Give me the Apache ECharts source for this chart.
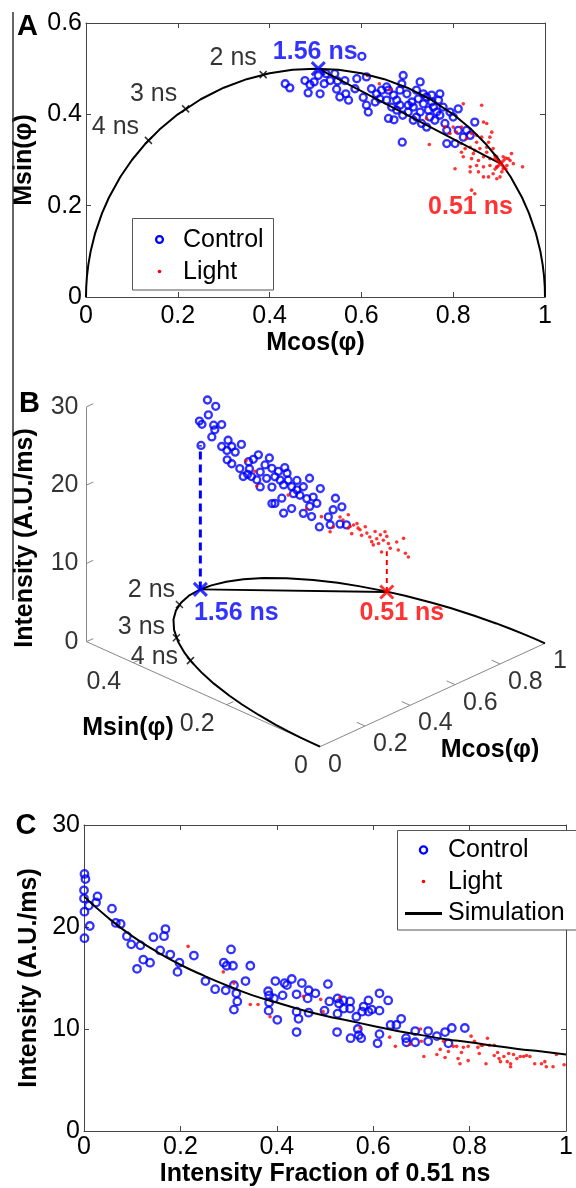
<!DOCTYPE html>
<html><head><meta charset="utf-8">
<script src="https://cdn.jsdelivr.net/npm/echarts@6/dist/echarts.min.js"></script>
<style>html,body{margin:0;padding:0;background:#fff}#c{width:576px;height:1188px}</style>
</head><body><div id="c"></div>
<script>
// ================= DATA =================
// Panel A: universal semicircle (Mcos, Msin)
const circleA = [[0,0],[0.0005,0.0224],[0.002,0.0447],[0.005,0.0705],[0.01,0.0995],[0.02,0.14],[0.035,0.1838],[0.05,0.2179],[0.075,0.2634],[0.1,0.3],[0.13,0.3363],[0.16,0.3666],[0.2,0.4],[0.25,0.433],[0.3,0.4583],[0.35,0.477],[0.4,0.4899],[0.45,0.4975],[0.5,0.5],[0.55,0.4975],[0.6,0.4899],[0.65,0.477],[0.7,0.4583],[0.75,0.433],[0.8,0.4],[0.84,0.3666],[0.87,0.3363],[0.9,0.3],[0.925,0.2634],[0.95,0.2179],[0.965,0.1838],[0.98,0.14],[0.99,0.0995],[0.995,0.0705],[0.998,0.0447],[0.9995,0.0224],[1,0]];
// lifetime marks on the circle
const tauNames = ['2 ns','3 ns','4 ns'];
const tauPts = [[0.386,0.487],[0.217,0.412],[0.136,0.343]];
// reference lifetimes (Control / Light)
const refNames = ['1.56 ns','0.51 ns'];
const refPts = [[0.506,0.500],[0.903,0.292]];
const refTopI = [18.4, 5.2];   // panel B: heights of the dashed drop lines
// Panel A scatter
const controlA = [[0.601,0.527],[0.434,0.467],[0.444,0.458],[0.477,0.474],[0.488,0.465],[0.484,0.447],[0.497,0.471],[0.510,0.445],[0.519,0.467],[0.523,0.489],[0.542,0.489],[0.548,0.473],[0.546,0.455],[0.564,0.474],[0.566,0.445],[0.572,0.431],[0.586,0.456],[0.590,0.478],[0.604,0.437],[0.611,0.420],[0.615,0.405],[0.622,0.456],[0.611,0.482],[0.630,0.427],[0.633,0.445],[0.644,0.453],[0.655,0.460],[0.659,0.391],[0.671,0.388],[0.670,0.442],[0.677,0.431],[0.684,0.453],[0.691,0.485],[0.688,0.467],[0.690,0.398],[0.689,0.339],[0.699,0.445],[0.702,0.420],[0.710,0.427],[0.713,0.387],[0.720,0.453],[0.724,0.434],[0.728,0.405],[0.731,0.380],[0.735,0.423],[0.742,0.438],[0.746,0.409],[0.749,0.394],[0.753,0.427],[0.757,0.416],[0.760,0.387],[0.764,0.405],[0.768,0.431],[0.771,0.398],[0.778,0.416],[0.782,0.380],[0.786,0.365],[0.793,0.405],[0.800,0.394],[0.786,0.336],[0.804,0.336],[0.811,0.412],[0.811,0.365],[0.829,0.365],[0.847,0.383],[0.837,0.354],[0.822,0.350],[0.742,0.372],[0.735,0.445],[0.702,0.405],[0.677,0.409],[0.666,0.416],[0.655,0.431],[0.640,0.434],[0.532,0.474],[0.506,0.485],[0.553,0.438],[0.728,0.471],[0.753,0.442],[0.771,0.445],[0.713,0.416],[0.720,0.394],[0.684,0.420],[0.659,0.453]];
const lightA = [[0.613,0.485],[0.639,0.467],[0.662,0.454],[0.742,0.391],[0.782,0.372],[0.822,0.423],[0.818,0.372],[0.840,0.358],[0.866,0.383],[0.873,0.380],[0.851,0.354],[0.862,0.350],[0.880,0.350],[0.877,0.339],[0.748,0.334],[0.818,0.336],[0.826,0.325],[0.837,0.328],[0.847,0.321],[0.858,0.325],[0.873,0.328],[0.887,0.325],[0.822,0.307],[0.840,0.303],[0.855,0.299],[0.866,0.307],[0.880,0.303],[0.891,0.310],[0.898,0.299],[0.909,0.307],[0.920,0.303],[0.927,0.314],[0.917,0.288],[0.909,0.281],[0.895,0.285],[0.880,0.288],[0.866,0.285],[0.851,0.288],[0.837,0.285],[0.804,0.281],[0.837,0.274],[0.855,0.274],[0.866,0.263],[0.877,0.263],[0.887,0.270],[0.902,0.263],[0.906,0.274],[0.951,0.285],[0.895,0.259],[0.840,0.234],[0.847,0.226],[0.924,0.299],[0.931,0.292],[0.862,0.420],[0.873,0.317],[0.807,0.361],[0.793,0.358],[0.884,0.361],[0.851,0.339],[0.829,0.347],[0.800,0.372],[0.818,0.317],[0.844,0.314],[0.895,0.307]];
// Panel B: [Mcos, Msin, Intensity]
const controlB = [[0.521,0.492,24.2],[0.539,0.483,23.4],[0.523,0.491,22.3],[0.504,0.501,21.5],[0.509,0.498,21.1],[0.534,0.485,21.0],[0.551,0.476,21.1],[0.537,0.484,20.4],[0.530,0.487,19.5],[0.507,0.499,18.4],[0.551,0.476,18.3],[0.565,0.469,19.1],[0.573,0.465,18.3],[0.593,0.454,18.6],[0.562,0.470,17.8],[0.563,0.470,16.6],[0.573,0.465,16.1],[0.590,0.456,15.5],[0.608,0.446,16.4],[0.619,0.441,16.7],[0.629,0.435,17.3],[0.610,0.445,15.5],[0.615,0.443,14.5],[0.626,0.437,14.1],[0.633,0.433,15.1],[0.644,0.428,16.0],[0.653,0.423,16.9],[0.658,0.420,15.6],[0.647,0.426,14.3],[0.658,0.420,13.2],[0.665,0.417,14.5],[0.672,0.413,15.2],[0.686,0.406,15.7],[0.676,0.411,14.1],[0.683,0.407,13.5],[0.693,0.402,14.1],[0.700,0.398,13.3],[0.658,0.420,11.1],[0.665,0.417,11.1],[0.679,0.409,11.8],[0.683,0.407,9.9],[0.700,0.398,10.5],[0.704,0.396,12.4],[0.711,0.392,12.9],[0.718,0.389,12.2],[0.725,0.385,13.3],[0.738,0.378,14.4],[0.732,0.381,11.8],[0.725,0.385,9.9],[0.739,0.378,10.8],[0.746,0.374,12.0],[0.754,0.370,11.2],[0.761,0.366,13.1],[0.743,0.376,9.5],[0.759,0.367,8.2],[0.778,0.357,9.5],[0.789,0.352,10.4],[0.793,0.349,11.9],[0.807,0.342,10.8],[0.803,0.344,8.6],[0.817,0.337,8.5],[0.782,0.355,8.5],[0.633,0.433,13.2],[0.597,0.452,14.5],[0.580,0.461,17.6],[0.606,0.447,14.8],[0.690,0.403,15.0],[0.711,0.392,14.1]];
const lightB = [[0.764,0.365,9.5],[0.782,0.355,7.6],[0.789,0.352,8.2],[0.803,0.344,9.5],[0.810,0.341,9.1],[0.821,0.335,9.8],[0.825,0.333,8.3],[0.828,0.331,7.4],[0.839,0.325,8.7],[0.846,0.322,7.9],[0.849,0.320,7.2],[0.857,0.316,8.3],[0.860,0.314,7.5],[0.867,0.311,7.0],[0.871,0.309,6.4],[0.878,0.305,7.7],[0.881,0.303,6.8],[0.889,0.299,7.3],[0.896,0.296,6.6],[0.899,0.294,7.7],[0.903,0.292,7.1],[0.906,0.290,6.2],[0.892,0.298,5.1],[0.910,0.288,5.6],[0.924,0.281,6.4],[0.927,0.279,5.4],[0.938,0.273,6.9],[0.942,0.271,5.0],[0.949,0.268,4.5],[0.832,0.329,8.5],[0.842,0.324,8.1],[0.874,0.307,6.0],[0.885,0.301,6.2],[0.821,0.335,8.1],[0.603,0.449,16.5],[0.626,0.437,13.3],[0.693,0.402,12.2],[0.732,0.381,10.5],[0.622,0.439,15.2]];
const bIntTicks = [0,10,20,30];
const bSinTicks = [0,0.2,0.4];
const bCosTicks = [0,0.2,0.4,0.6,0.8,1];
// Panel C: [fraction of 0.51 ns, intensity]
const controlC = [[0.001,25.2],[0.003,24.7],[0,23.6],[0,22.8],[0.001,21.5],[0.001,18.9],[0.012,20.1],[0.010,22.1],[0.025,22.4],[0.028,23.0],[0.058,21.8],[0.066,20.4],[0.076,20.3],[0.089,19.1],[0.098,18.3],[0.117,18.2],[0.110,15.9],[0.123,16.8],[0.137,16.5],[0.144,19.0],[0.158,17.7],[0.166,19.1],[0.169,19.8],[0.179,17.3],[0.198,16.5],[0.194,15.6],[0.228,17.2],[0.252,14.7],[0.272,13.9],[0.290,16.5],[0.296,16.2],[0.305,17.8],[0.309,16.2],[0.294,13.8],[0.311,14.3],[0.316,13.5],[0.318,12.7],[0.311,11.9],[0.335,14.7],[0.345,16.2],[0.382,13.7],[0.384,13.3],[0.384,12.6],[0.383,11.8],[0.394,13.0],[0.401,10.9],[0.397,14.7],[0.412,13.3],[0.416,14.5],[0.421,14.3],[0.431,14.9],[0.441,13.4],[0.452,14.5],[0.441,11.7],[0.445,11.0],[0.441,9.7],[0.466,13.8],[0.464,13.0],[0.480,13.5],[0.466,11.6],[0.506,14.4],[0.509,12.7],[0.499,11.8],[0.525,9.7],[0.526,13.0],[0.529,12.5],[0.526,11.5],[0.538,12.8],[0.539,12.0],[0.552,12.7],[0.552,12.0],[0.553,9.1],[0.565,11.2],[0.568,10.0],[0.570,9.4],[0.575,9.1],[0.577,11.7],[0.580,12.2],[0.590,12.8],[0.590,11.7],[0.597,11.9],[0.613,13.5],[0.613,11.8],[0.613,9.5],[0.609,8.6],[0.631,12.8],[0.636,10.4],[0.648,10.4],[0.658,11.0],[0.668,9.1],[0.669,8.7],[0.687,9.8],[0.687,8.7],[0.714,9.8],[0.714,8.8],[0.732,9.3],[0.749,9.7],[0.763,10.1],[0.756,8.6],[0.790,10.1]];
const lightC = [[0.216,18.1],[0.289,15.6],[0.311,14.5],[0.345,12.4],[0.361,12.4],[0.386,11.2],[0.455,13.2],[0.491,12.9],[0.496,11.7],[0.531,13.1],[0.573,10.1],[0.634,9.2],[0.646,8.3],[0.676,8.5],[0.698,10.0],[0.700,8.8],[0.705,7.3],[0.732,7.5],[0.739,8.0],[0.746,8.8],[0.749,7.2],[0.756,7.8],[0.766,8.3],[0.773,8.3],[0.783,7.7],[0.776,7.1],[0.780,6.6],[0.797,6.9],[0.803,9.3],[0.810,8.8],[0.817,8.2],[0.820,7.6],[0.824,8.4],[0.827,8.4],[0.837,9.1],[0.834,6.6],[0.841,8.4],[0.851,7.4],[0.861,7.1],[0.864,6.8],[0.871,7.3],[0.878,6.8],[0.881,7.6],[0.885,6.6],[0.885,6.3],[0.891,7.5],[0.898,7.1],[0.905,7.3],[0.912,7.3],[0.918,7.4],[0.925,7.3],[0.935,6.6],[0.949,6.6],[0.956,6.8],[0.959,6.3],[0.973,6.3],[0.980,7.5],[0.996,6.5],[0.797,8.3],[0.787,8.2],[0.851,8.4],[0.858,7.7]];
const simC = [[0,23.0],[0.05,20.9],[0.1,19.1],[0.15,17.6],[0.2,16.3],[0.25,15.2],[0.3,14.2],[0.35,13.3],[0.4,12.6],[0.45,11.9],[0.5,11.3],[0.55,10.8],[0.6,10.3],[0.65,9.8],[0.7,9.4],[0.75,9.0],[0.8,8.7],[0.85,8.35],[0.9,8.05],[0.95,7.8],[1,7.5]];

// ================= STYLE / VIEW =================
const FONT = "'Liberation Sans', Arial, Helvetica, sans-serif";
const BLUE = '#0000ff', RED = '#ff0000', AX = '#444';
const XSYM = 'path://M0,0L10,10M10,0L0,10';
// panel B oblique view: screen displacement per unit of (Mcos, Msin, Intensity)
const VIEW = { gx: 225, gy: 103.4, sx: -467, sy: 210, iy: 7.83 };
function proj(g, s, I) { return [VIEW.gx * g + VIEW.sx * s, VIEW.gy * g + VIEW.sy * s + VIEW.iy * I]; }

const tickFont = { fontSize: 25, color: '#000', fontFamily: FONT };
const titleFont = { fontSize: 25, color: '#000', fontFamily: FONT, fontWeight: 'bold' };
function boxAxis(grid, pos, min, max, interval, labels, extra) {
  return Object.assign({
    gridIndex: grid, type: 'value', position: pos, min, max, interval,
    axisLine: { show: true, onZero: false, lineStyle: { color: AX, width: 1 } },
    axisTick: { show: true, inside: true, length: 5, lineStyle: { color: AX } },
    axisLabel: Object.assign({ show: labels, margin: 6 }, tickFont),
    splitLine: { show: false }
  }, extra || {});
}
const hollow = { color: 'none', borderColor: BLUE, borderWidth: 2.3 };
const dot = { color: RED };

const markLabel = (off, color, bold) => ({ show: true, position: 'inside', offset: off, fontSize: 25, fontFamily: FONT, color, fontWeight: bold ? 'bold' : 'normal' });

// ================= SERIES =================
const series = [];
// ----- Panel A -----
series.push({ type: 'scatter', name: 'Control', xAxisIndex: 0, yAxisIndex: 0, data: controlA, symbol: 'circle', symbolSize: 7, itemStyle: hollow, z: 3 });
series.push({ type: 'scatter', name: 'Light', xAxisIndex: 0, yAxisIndex: 0, data: lightA, symbolSize: 3.6, itemStyle: dot, z: 4 });
series.push({ type: 'line', xAxisIndex: 0, yAxisIndex: 0, data: circleA, showSymbol: false, symbol: 'none', lineStyle: { color: '#000', width: 2 }, z: 5 });
series.push({ type: 'line', xAxisIndex: 0, yAxisIndex: 0, data: refPts, showSymbol: false, symbol: 'none', lineStyle: { color: '#000', width: 1.8 }, z: 5 });
const tauOffA = [[-30,-16],[-32,-15],[-33,-13]];
series.push({ type: 'scatter', xAxisIndex: 0, yAxisIndex: 0, symbol: XSYM, symbolSize: 7, clip: false,
  itemStyle: { color: 'none', borderColor: '#000', borderWidth: 1.5 }, z: 6,
  data: tauPts.map((p, i) => ({ value: p, label: markLabel(tauOffA[i], '#000', false), name: tauNames[i] })),
  label: { formatter: p => p.name } });
const refOffA = [[-3,-17],[-30,43]];
series.push({ type: 'scatter', xAxisIndex: 0, yAxisIndex: 0, symbol: XSYM, symbolSize: 13, clip: false, z: 7,
  data: refPts.map((p, i) => ({ value: p, name: refNames[i],
    itemStyle: { color: 'none', borderColor: i ? RED : BLUE, borderWidth: 3 },
    label: markLabel(refOffA[i], i ? RED : BLUE, true) })),
  label: { formatter: p => p.name } });

// ----- Panel B (oblique 3-D view) -----
const bx = 2, by = 2;
const axisSeg = [[[0,0.5,0],[0,0.5,30]], [[0,0.5,0],[0,0,0]], [[0,0,0],[1,0,0]]];
const tickSeg = [];
bCosTicks.slice(1, -1).forEach(g => tickSeg.push([[g,0,0],[g,0.018,0]]));
bSinTicks.slice(1).forEach(s => tickSeg.push([[0,s,0],[0.03,s,0]]));
bIntTicks.forEach(I => tickSeg.push([[0,0.5,I],[0.03,0.5,I]]));
series.push({ type: 'lines', coordinateSystem: 'cartesian2d', xAxisIndex: bx, yAxisIndex: by, z: 1,
  lineStyle: { color: '#888', width: 1, opacity: 1 },
  data: axisSeg.concat(tickSeg).map(seg => ({ coords: seg.map(p => proj(p[0], p[1], p[2])) })) });
series.push({ type: 'scatter', name: 'Control', xAxisIndex: bx, yAxisIndex: by, data: controlB.map(p => proj(p[0], p[1], p[2])), symbolSize: 7, itemStyle: hollow, z: 3 });
series.push({ type: 'scatter', name: 'Light', xAxisIndex: bx, yAxisIndex: by, data: lightB.map(p => proj(p[0], p[1], p[2])), symbolSize: 3.6, itemStyle: dot, z: 4 });
series.push({ type: 'line', xAxisIndex: bx, yAxisIndex: by, data: circleA.map(p => proj(p[0], p[1], 0)), symbol: 'none', lineStyle: { color: '#000', width: 2 }, z: 5 });
series.push({ type: 'line', xAxisIndex: bx, yAxisIndex: by, data: refPts.map(p => proj(p[0], p[1], 0)), symbol: 'none', lineStyle: { color: '#000', width: 1.8 }, z: 5 });
refPts.forEach((p, i) => series.push({ type: 'line', xAxisIndex: bx, yAxisIndex: by, symbol: 'none', z: 5,
  data: [proj(p[0], p[1], 0), proj(p[0], p[1], refTopI[i])],
  lineStyle: { color: i ? RED : BLUE, width: i ? 2 : 3, type: i ? [5, 4] : [8, 5] } }));
const tauOffB = [[-28,-14],[-35,-11],[-36,-3]];
series.push({ type: 'scatter', xAxisIndex: bx, yAxisIndex: by, symbol: XSYM, symbolSize: 7, clip: false, z: 6,
  itemStyle: { color: 'none', borderColor: '#000', borderWidth: 1.5 },
  data: tauPts.map((p, i) => ({ value: proj(p[0], p[1], 0), name: tauNames[i], label: markLabel(tauOffB[i], '#000', false) })),
  label: { formatter: p => p.name } });
const refOffB = [[36,24],[15,21]];
series.push({ type: 'scatter', xAxisIndex: bx, yAxisIndex: by, symbol: XSYM, symbolSize: 13, clip: false, z: 7,
  data: refPts.map((p, i) => ({ value: proj(p[0], p[1], 0), name: refNames[i],
    itemStyle: { color: 'none', borderColor: i ? RED : BLUE, borderWidth: 3 },
    label: markLabel(refOffB[i], i ? RED : BLUE, true) })),
  label: { formatter: p => p.name } });
// tick labels of the oblique axes
const tl = (pt, text, align, off) => ({ value: pt, name: text,
  label: { show: true, position: 'inside', align, verticalAlign: 'middle', offset: off, fontSize: 25, fontFamily: FONT, color: '#000', formatter: text } });
const tickLabelData = []
  .concat(bIntTicks.map(I => tl(proj(0, 0.5, I), String(I), 'right', [-8, 0])))
  .concat(bSinTicks.map(s => tl(proj(0, s, 0), String(s), 'right', [-12, 19])))
  .concat(bCosTicks.map(g => tl(proj(g, 0, 0), String(g), 'left', [8, 18])));
series.push({ type: 'scatter', xAxisIndex: bx, yAxisIndex: by, symbolSize: 1, clip: false, z: 8,
  itemStyle: { color: 'rgba(0,0,0,0)' }, data: tickLabelData });

// ----- Panel C -----
series.push({ type: 'scatter', name: 'Control', xAxisIndex: 3, yAxisIndex: 3, data: controlC, symbolSize: 7.5, itemStyle: hollow, z: 3 });
series.push({ type: 'scatter', name: 'Light', xAxisIndex: 3, yAxisIndex: 3, data: lightC, symbolSize: 3.6, itemStyle: dot, z: 4 });
series.push({ type: 'line', name: 'Simulation', xAxisIndex: 3, yAxisIndex: 3, data: simC, symbol: 'none', smooth: true, lineStyle: { color: '#000', width: 2 }, z: 5 });

// ================= GRAPHIC (letters, legends, 3-D titles) =================
const txt = (x, y, text, opts) => Object.assign({ type: 'text', x, y, z: 100,
  style: Object.assign({ text, fontSize: 25, fontFamily: FONT, fill: '#000', align: 'left', verticalAlign: 'middle' }, (opts && opts.style) || {}) },
  opts && opts.rotation ? { rotation: opts.rotation } : {});
const graphic = [
  { type: 'line', z: 100, shape: { x1: 13, y1: 12, x2: 13, y2: 600 }, style: { stroke: '#333', lineWidth: 1.5 } },
  txt(27.5, 27, 'A', { style: { fontSize: 29, fontWeight: 'bold', align: 'center' } }),
  txt(29.5, 404, 'B', { style: { fontSize: 29, fontWeight: 'bold', align: 'center' } }),
  txt(26, 826, 'C', { style: { fontSize: 29, fontWeight: 'bold', align: 'center' } }),
  // panel B axis titles
  txt(25, 538, 'Intensity (A.U./ms)', { rotation: Math.PI / 2, style: { fontWeight: 'bold', align: 'center' } }),
  txt(128, 728, 'Msin(φ)', { style: { fontWeight: 'bold', align: 'center' } }),
  txt(490, 750, 'Mcos(φ)', { style: { fontWeight: 'bold', align: 'center' } }),
  // legend A
  { type: 'rect', z: 99, shape: { x: 132.5, y: 218.5, width: 141, height: 71.5 }, style: { fill: '#fff', stroke: '#555', lineWidth: 1 } },
  { type: 'circle', z: 100, shape: { cx: 159.5, cy: 239.5, r: 3.4 }, style: { fill: 'none', stroke: BLUE, lineWidth: 2.3 } },
  { type: 'circle', z: 100, shape: { cx: 159.5, cy: 271.5, r: 1.8 }, style: { fill: RED } },
  txt(183, 240, 'Control'), txt(183, 272, 'Light'),
  // legend C
  { type: 'rect', z: 99, shape: { x: 397.5, y: 830.5, width: 190, height: 99.5 }, style: { fill: '#fff', stroke: '#555', lineWidth: 1 } },
  { type: 'circle', z: 100, shape: { cx: 423.5, cy: 850, r: 3.6 }, style: { fill: 'none', stroke: BLUE, lineWidth: 2.3 } },
  { type: 'circle', z: 100, shape: { cx: 423.5, cy: 881.5, r: 1.8 }, style: { fill: RED } },
  { type: 'line', z: 100, shape: { x1: 405, y1: 913.5, x2: 442, y2: 913.5 }, style: { stroke: '#000', lineWidth: 3 } },
  txt(448, 850, 'Control'), txt(448, 882, 'Light'), txt(448, 913.5, 'Simulation')
];

const option = {
  animation: false,
  backgroundColor: '#fff',
  textStyle: { fontFamily: FONT },
  grid: [
    { left: 86, top: 23, width: 459, height: 274 },
    { left: 0, top: 380, width: 576, height: 400 },
    { left: 84, top: 825, width: 492, height: 308 }
  ],
  xAxis: [
    boxAxis(0, 'bottom', 0, 1, 0.2, true, { name: 'Mcos(φ)', nameLocation: 'middle', nameGap: 34, nameTextStyle: titleFont, axisLabel: Object.assign({ margin: 7 }, tickFont) }),
    boxAxis(0, 'top', 0, 1, 0.2, false),
    { gridIndex: 1, type: 'value', min: -320, max: 256, show: false },
    boxAxis(2, 'bottom', 0, 1, 0.2, true, { name: 'Intensity Fraction of 0.51 ns', nameLocation: 'middle', nameGap: 31, nameTextStyle: titleFont, axisLabel: Object.assign({ margin: 4, alignMaxLabel: 'center', alignMinLabel: 'center' }, tickFont) }),
    boxAxis(2, 'top', 0, 1, 0.2, false)
  ],
  yAxis: [
    boxAxis(0, 'left', 0, 0.6, 0.2, true, { name: 'Msin(φ)', nameLocation: 'middle', nameRotate: 90, nameGap: 48, nameTextStyle: titleFont, axisLabel: Object.assign({ margin: 4 }, tickFont) }),
    boxAxis(0, 'right', 0, 0.6, 0.2, false),
    { gridIndex: 1, type: 'value', min: -33.3, max: 366.7, show: false },
    boxAxis(2, 'left', 0, 30, 10, true, { name: 'Intensity (A.U./ms)', nameLocation: 'middle', nameRotate: 90, nameGap: 42, nameTextStyle: titleFont, axisLabel: Object.assign({ margin: 4 }, tickFont) }),
    boxAxis(2, 'right', 0, 30, 10, false)
  ],
  series,
  graphic
};
const chart = echarts.init(document.getElementById('c'), null, { renderer: 'canvas', width: 576, height: 1188 });
chart.setOption(option);
</script>
</body></html>
